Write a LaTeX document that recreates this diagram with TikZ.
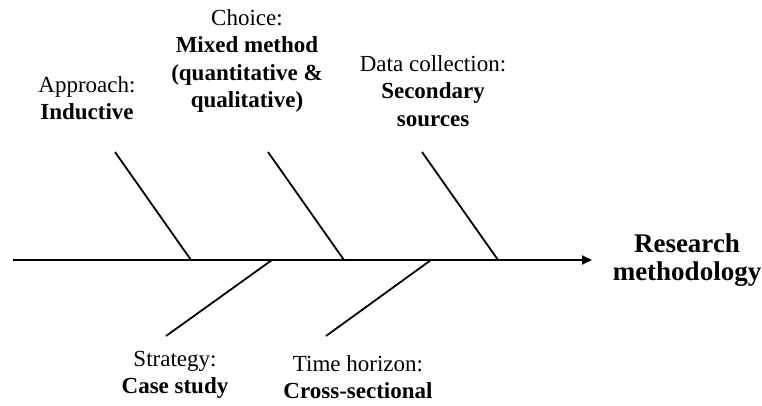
\documentclass[tikz,border=0pt]{standalone}
\usepackage{fontspec}
\setmainfont{Liberation Serif}
\usetikzlibrary{arrows.meta}
\begin{document}
\begin{tikzpicture}[x=1pt,y=-1pt,
  bone/.style={line width=1.8pt, black},
  spine/.style={line width=1.8pt, black, -{Triangle[length=10pt,width=9pt]}},
  cause/.style={align=center, font=\fontsize{23}{27.5}\selectfont, inner sep=0pt},
  effectbox/.style={align=center, font=\fontsize{27}{28}\selectfont\bfseries, inner sep=0pt}]
\useasboundingbox (0,0) rectangle (762,405);

% spine and effect
\coordinate (tail) at (13,260);
\coordinate (tip) at (592,260);
\node[effectbox] (effect) at (687,260) {Research\\methodology};
\draw[spine] (tail) -- (tip);

% junctions on the spine
\coordinate (s1) at (191,260);
\coordinate (s2) at (344,260);
\coordinate (s3) at (498,260);
\coordinate (s4) at (272,260);
\coordinate (s5) at (431,260);

% free ends of the bones
\coordinate (t1) at (115,152);
\coordinate (t2) at (268,152);
\coordinate (t3) at (422,152);
\coordinate (b1) at (166,336);
\coordinate (b2) at (326,336);

\draw[bone] (t1) -- (s1);
\draw[bone] (t2) -- (s2);
\draw[bone] (t3) -- (s3);
\draw[bone] (b1) -- (s4);
\draw[bone] (b2) -- (s5);

% cause labels
\node[cause] (approach) at (87,98) {Approach:\\\textbf{Inductive}};
\node[cause] (choice) at (247,61) {Choice:\\\textbf{Mixed method}\\\textbf{(quantitative \&}\\\textbf{qualitative)}};
\node[cause] (datacoll) at (433,91) {Data collection:\\\textbf{Secondary}\\\textbf{sources}};
\node[cause] (strategy) at (175,375) {Strategy:\\\textbf{Case study}};
\node[cause] (timehor) at (358,377) {Time horizon:\\\textbf{Cross-sectional}};
\end{tikzpicture}
\end{document}
